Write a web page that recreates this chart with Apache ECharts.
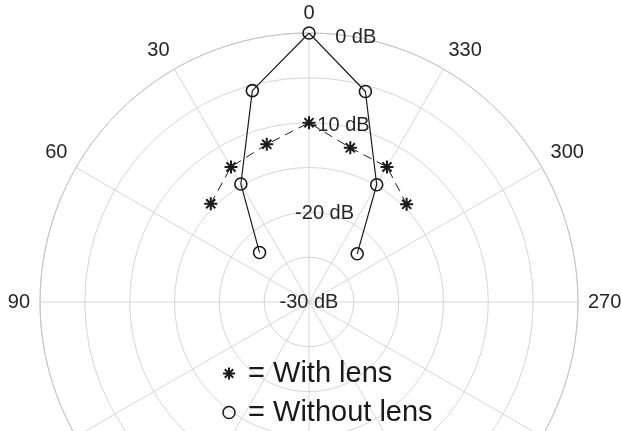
<!DOCTYPE html>
<html>
<head>
<meta charset="utf-8">
<script src="https://cdn.jsdelivr.net/npm/echarts@6/dist/echarts.min.js"></script>
<style>
html,body{margin:0;padding:0;background:#fff;}
#chart{width:621px;height:431px;}
</style>
</head>
<body>
<div id="chart"></div>
<script>
// Angles in degrees (0 at top, counter-clockwise), values in dB
const angles = [45, 30, 15, 0, 345, 330, 315];
const withLensDb = [-14.5, -12.6, -11.8, -10.0, -12.2, -12.6, -14.6];
const withoutLensDb = [-22.2, -14.8, -5.6, 0.0, -5.7, -14.9, -22.4];
const seriesNames = ['With lens', 'Without lens'];
const radiusTicks = [-30, -20, -10, 0];

const FONT = 'Liberation Sans, Arial, Helvetica, sans-serif';
const GRID = '#d6d6d6';
const TXT = '#262626';
const INK = '#1a1a1a';
const asterisk = 'path://M5,0L5,10M0,5L10,5M1.5,1.5L8.5,8.5M1.5,8.5L8.5,1.5';

function toPolar(db) { return db.map((v, i) => [v, angles[i]]); }

const chart = echarts.init(document.getElementById('chart'), null, {renderer: 'canvas'});
chart.setOption({
  animation: false,
  backgroundColor: '#fff',
  polar: [
    {center: [309, 302], radius: 269},
    {center: [309, 302], radius: 269}
  ],
  angleAxis: [
    {
      polarIndex: 0, type: 'value', min: 0, max: 360, interval: 30,
      startAngle: 90, clockwise: false,
      axisLine: {show: true, lineStyle: {color: '#c4c4c4', width: 1}},
      axisTick: {show: false},
      axisLabel: {
        margin: 10, fontSize: 20, fontFamily: FONT, color: TXT,
        formatter: v => (v === 360 ? '' : String(v))
      },
      splitLine: {show: true, lineStyle: {color: GRID, width: 1}}
    },
    {
      polarIndex: 1, type: 'value', min: 0, max: 360, startAngle: 80,
      show: false
    }
  ],
  radiusAxis: [
    {
      polarIndex: 0, type: 'value', min: -30, max: 0, interval: 5,
      axisLine: {show: false}, axisTick: {show: false}, axisLabel: {show: false},
      splitLine: {show: true, lineStyle: {color: GRID, width: 1}}
    },
    {
      polarIndex: 1, type: 'value', min: -30, max: 0, interval: 5,
      axisLine: {show: false}, axisTick: {show: false},
      splitLine: {show: false},
      axisLabel: {
        show: true, margin: 0, fontSize: 20, fontFamily: FONT, color: TXT,
        align: 'center', verticalAlign: 'middle',
        formatter: v => (radiusTicks.indexOf(v) >= 0 ? v + ' dB' : '')
      }
    }
  ],
  legend: {
    orient: 'vertical', left: 222, top: 357, width: 260, height: 120,
    padding: 0, itemGap: 6,
    itemWidth: 12, itemHeight: 12,
    formatter: ' = {name}',
    textStyle: {fontSize: 29, lineHeight: 33, fontFamily: FONT, color: INK},
    selectedMode: false,
    data: [
      {name: seriesNames[0], icon: asterisk,
       itemStyle: {color: 'transparent', borderColor: INK, borderWidth: 2}},
      {name: seriesNames[1], icon: 'circle',
       itemStyle: {color: 'transparent', borderColor: INK, borderWidth: 1.5}}
    ]
  },
  series: [
    {
      name: seriesNames[0], type: 'line', coordinateSystem: 'polar', polarIndex: 0,
      data: toPolar(withLensDb),
      symbol: asterisk, symbolSize: 13,
      itemStyle: {color: 'transparent', borderColor: INK, borderWidth: 2},
      lineStyle: {color: INK, width: 1, type: [9, 6]},
      z: 5
    },
    {
      name: seriesNames[1], type: 'line', coordinateSystem: 'polar', polarIndex: 0,
      data: toPolar(withoutLensDb),
      symbol: 'circle', symbolSize: 12,
      itemStyle: {color: 'transparent', borderColor: INK, borderWidth: 1.6},
      lineStyle: {color: INK, width: 1.2, type: 'solid'},
      z: 5
    }
  ]
});
</script>
</body>
</html>
